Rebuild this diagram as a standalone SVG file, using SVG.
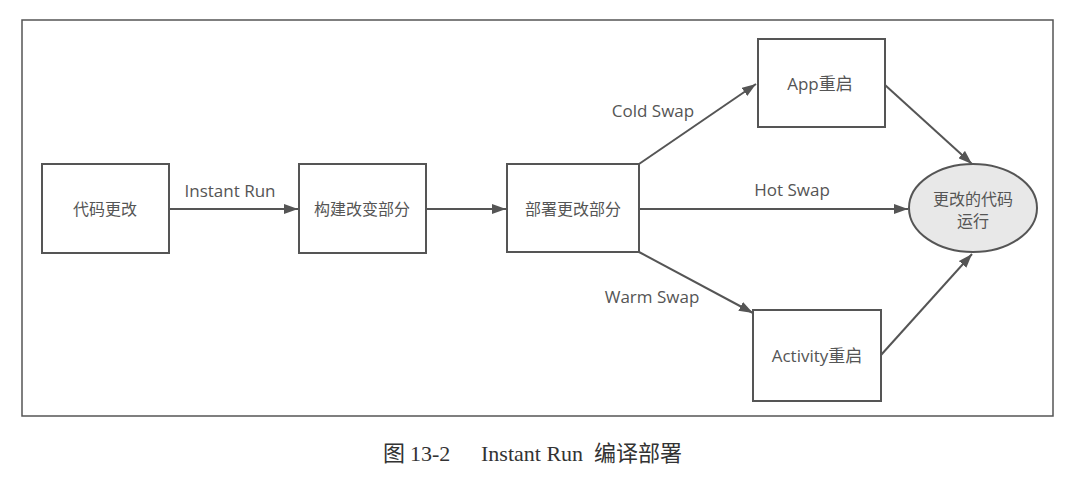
<svg xmlns="http://www.w3.org/2000/svg" width="1087" height="485" viewBox="0 0 1087 485">
<defs>
<marker id="ah" viewBox="0 0 14 10" refX="14" refY="5" markerWidth="14" markerHeight="10" markerUnits="userSpaceOnUse" orient="auto">
<path d="M0,0 L14,5 L0,10 Z" fill="#555"/>
</marker>
</defs>
<style>
.box{fill:#fff;stroke:#555;stroke-width:2}
.t{font-family:"Open Sans","Noto Sans CJK SC",sans-serif;font-size:17px;fill:#555;text-anchor:middle}
.c{font-family:"Open Sans","Noto Sans CJK SC",sans-serif;font-size:16px;fill:#555;text-anchor:middle}
.m{font-size:17px}
.ln{stroke:#555;stroke-width:2;fill:none;marker-end:url(#ah)}
.cap{font-family:"Liberation Serif","Noto Sans CJK SC",serif;font-size:22px;fill:#333}
</style>
<rect width="1087" height="485" fill="#fff"/>
<rect x="22" y="20" width="1031" height="396" fill="none" stroke="#555" stroke-width="1.5"/>
<g id="connectors">
<line class="ln" x1="169" y1="209" x2="298" y2="209"/>
<line class="ln" x1="426" y1="209" x2="506" y2="209"/>
<line class="ln" x1="639" y1="164" x2="756" y2="84"/>
<line class="ln" x1="639" y1="209" x2="908" y2="209"/>
<line class="ln" x1="639" y1="252" x2="753" y2="313"/>
<line class="ln" x1="885" y1="85" x2="972" y2="164"/>
<line class="ln" x1="881" y1="355" x2="972" y2="254"/>
<text class="t" x="230" y="197">Instant Run</text>
<text class="t" x="653" y="117">Cold Swap</text>
<text class="t" x="792" y="196">Hot Swap</text>
<text class="t" x="652" y="303">Warm Swap</text>
</g>
<g id="n1"><rect class="box" x="42" y="164" width="127" height="89"/><text class="c" x="105" y="215">代码更改</text></g>
<g id="n2"><rect class="box" x="299" y="164" width="127" height="89"/><text class="c" x="362" y="215">构建改变部分</text></g>
<g id="n3"><rect class="box" x="507" y="164" width="132" height="88"/><text class="c" x="573" y="215">部署更改部分</text></g>
<g id="n4"><rect class="box" x="758" y="39" width="127" height="88"/><text class="c m" x="820" y="90">App重启</text></g>
<g id="n5"><rect class="box" x="753" y="310" width="128" height="91"/><text class="c m" x="817" y="362">Activity重启</text></g>
<g id="n6"><ellipse cx="973" cy="208" rx="64" ry="44" fill="#e8e8e8" stroke="#555" stroke-width="2"/><text class="c" x="973" y="205">更改的代码</text><text class="c" x="973" y="227">运行</text></g>
<text class="cap" y="461"><tspan x="383">图</tspan><tspan x="410">13-2</tspan><tspan x="481">Instant Run</tspan><tspan x="594">编译部署</tspan></text>
</svg>
